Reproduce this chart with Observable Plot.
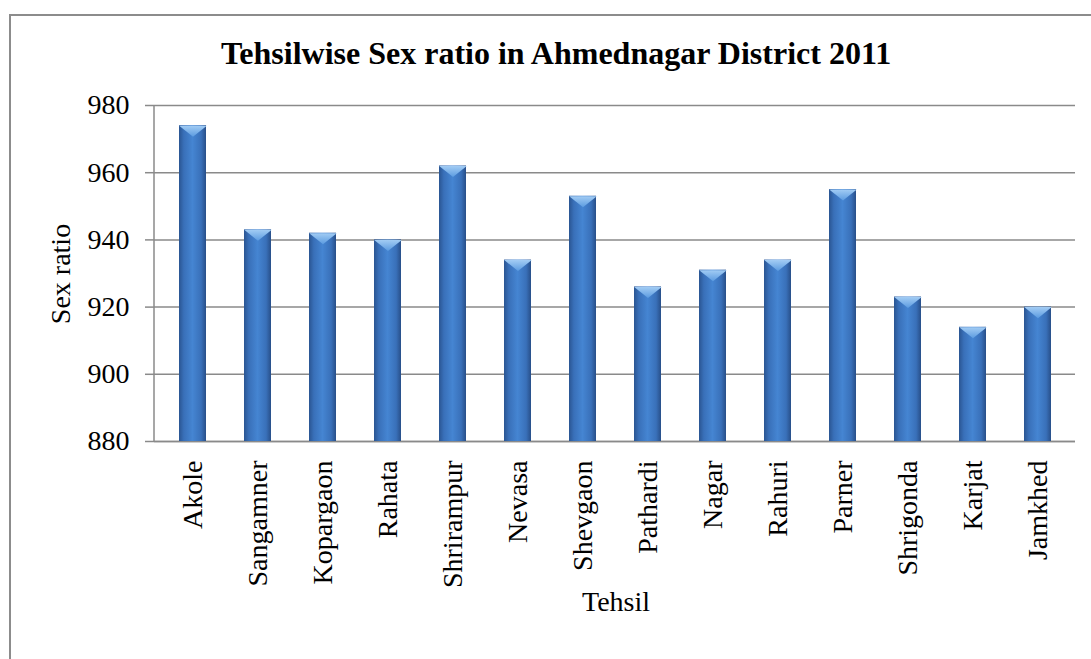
<!DOCTYPE html>
<html>
<head>
<meta charset="utf-8">
<script src="https://cdn.jsdelivr.net/npm/d3@7"></script>
<script src="https://cdn.jsdelivr.net/npm/@observablehq/plot@0.6"></script>
<style>
  html, body { margin: 0; padding: 0; background: #fff; }
  #wrap { position: relative; width: 1091px; height: 659px; overflow: hidden; font-family: "Liberation Serif", "Times New Roman", serif; }
  #frame { position: absolute; left: 9px; top: 14px; width: 1100px; height: 700px; border-left: 2px solid #8c8c8c; border-top: 2px solid #8c8c8c; box-sizing: border-box; }
  #title { position: absolute; left: 0; width: 1112px; top: 35px; text-align: center; font-weight: bold; font-size: 32px; color: #000; }
  #xlabel { position: absolute; left: 0; width: 1232px; top: 586px; text-align: center; font-size: 28px; color: #000; }
  #ylabel { position: absolute; left: 61px; top: 274px; transform: translate(-50%, -50%) rotate(-90deg); white-space: nowrap; font-size: 28px; color: #000; }
  #chart { position: absolute; left: 0; top: 0; }
  #chart svg, #chart svg text { font-family: "Liberation Serif", "Times New Roman", serif !important; font-size: 28px; }
</style>
</head>
<body>
<div id="wrap">
  <div id="frame"></div>
  <div id="chart"></div>
  <div id="title">Tehsilwise Sex ratio in Ahmednagar District 2011</div>
  <div id="ylabel">Sex ratio</div>
  <div id="xlabel">Tehsil</div>
</div>
<script>
const tehsils = ["Akole","Sangamner","Kopargaon","Rahata","Shrirampur","Nevasa","Shevgaon","Pathardi","Nagar","Rahuri","Parner","Shrigonda","Karjat","Jamkhed"];
const sexRatio = [974, 943, 942, 940, 962, 934, 953, 926, 931, 934, 955, 923, 914, 920];
const yTicks = [880, 900, 920, 940, 960, 980];

const data = tehsils.map((t, i) => ({tehsil: t, value: sexRatio[i]}));

const bevel = {
  draw(context, size) {
    const r = Math.sqrt(size / Math.PI);
    context.moveTo(-r, 0);
    context.lineTo(r, 0);
    context.lineTo(0, r * 0.8);
    context.closePath();
  }
};

// left axis line drawn from the frame dimensions
const leftAxisLine = (index, scales, values, dimensions) => {
  const {marginLeft, marginTop, marginBottom, height} = dimensions;
  const line = document.createElementNS("http://www.w3.org/2000/svg", "line");
  line.setAttribute("x1", marginLeft);
  line.setAttribute("x2", marginLeft);
  line.setAttribute("y1", marginTop);
  line.setAttribute("y2", height - marginBottom);
  line.setAttribute("stroke", "#8a8a8a");
  line.setAttribute("stroke-width", 1.5);
  return line;
};

const chart = Plot.plot({
  width: 1091,
  height: 659,
  marginLeft: 154,
  marginRight: 16,
  marginTop: 105,
  marginBottom: 218,
  style: { background: "transparent", color: "#000" },
  x: { domain: tehsils, padding: 0, label: null },
  y: { domain: [880, 980], ticks: yTicks, label: null },
  marks: [
    Plot.gridY(yTicks, { stroke: "#8a8a8a", strokeOpacity: 1, strokeWidth: 1.5 }),
    leftAxisLine,
    Plot.ruleY([880], { stroke: "#8a8a8a", strokeWidth: 1.5 }),
    Plot.axisY({ ticks: yTicks, tickSize: 9, tickPadding: 16, stroke: "#8a8a8a", strokeWidth: 1.5, label: null }),
    Plot.axisX({ tickSize: 0, tickPadding: 19, tickRotate: -90, label: null }),
    Plot.barY(data, { x: "tehsil", y1: 880, y2: "value", insetLeft: 19, insetRight: 19, fill: "url(#barGrad)", style: "filter:url(#barShadow)" }),
    Plot.dot(data, { x: "tehsil", y: "value", symbol: bevel, r: 13.8, fill: "url(#bevelGrad)", stroke: "none" })
  ]
});

const ns = "http://www.w3.org/2000/svg";
const defs = document.createElementNS(ns, "defs");
defs.innerHTML = `
  <linearGradient id="barGrad" x1="0" y1="0" x2="1" y2="0">
    <stop offset="0%" stop-color="#2a5592"/>
    <stop offset="18%" stop-color="#3970b9"/>
    <stop offset="50%" stop-color="#4585d2"/>
    <stop offset="82%" stop-color="#3970b9"/>
    <stop offset="100%" stop-color="#284f89"/>
  </linearGradient>
  <linearGradient id="bevelGrad" x1="0" y1="0" x2="0" y2="1">
    <stop offset="0%" stop-color="#a2ccf4"/>
    <stop offset="100%" stop-color="#5b9be0"/>
  </linearGradient>
  <filter id="barShadow" x="-30%" y="-5%" width="160%" height="110%">
    <feDropShadow dx="1.5" dy="1.5" stdDeviation="2.5" flood-color="#000" flood-opacity="0.3"/>
  </filter>`;
chart.insertBefore(defs, chart.firstChild);
document.getElementById("chart").appendChild(chart);
</script>
</body>
</html>
